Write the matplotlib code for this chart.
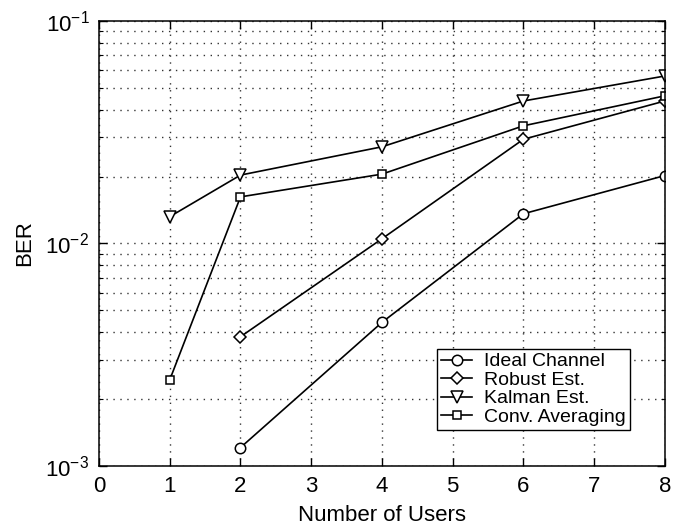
import matplotlib
matplotlib.use("Agg")
from matplotlib import pyplot as plt
from matplotlib.ticker import LogLocator, NullFormatter

users = [1, 2, 4, 6, 8]
ideal_x = [2, 4, 6, 8]
ideal = [1.21e-3, 4.42e-3, 1.36e-2, 2.02e-2]
robust_x = [2, 4, 6, 8]
robust = [3.81e-3, 1.05e-2, 2.94e-2, 4.37e-2]
kalman = [1.32e-2, 2.03e-2, 2.72e-2, 4.37e-2, 5.66e-2]
conv = [2.44e-3, 1.62e-2, 2.05e-2, 3.38e-2, 4.61e-2]

plt.rcParams['font.family'] = ['Liberation Sans', 'DejaVu Sans']

fig = plt.figure(figsize=(6.94, 5.25), dpi=100)
ax = fig.add_axes([0.1427, 0.1124, 0.8153, 0.8476])

style = dict(color='black', lw=1.2, mfc='white', mec='black', mew=1.1)
ax.plot(ideal_x, ideal, marker='o', ms=7.5, label='Ideal Channel', **style)
ax.plot(robust_x, robust, marker='D', ms=6, label='Robust Est.', **style)
ax.plot(users, kalman, marker='v', ms=8.5, label='Kalman Est.', **style)
ax.plot(users, conv, marker='s', ms=6, label='Conv. Averaging', **style)

ax.set_yscale('log')
ax.set_xlim(0, 8)
ax.set_ylim(1e-3, 1e-1)
ax.set_xticks(range(9))
ax.yaxis.set_minor_locator(LogLocator(base=10, subs=range(2, 10)))
ax.yaxis.set_minor_formatter(NullFormatter())

grid_style = dict(ls=(0, (1, 4)), color='#333333', lw=1)
ax.grid(True, which='major', **grid_style)
ax.grid(True, which='minor', axis='y', **grid_style)

ax.tick_params(which='both', direction='in', top=True, right=True, labelsize=16)
ax.tick_params(which='major', length=6, width=1, pad=7)
ax.tick_params(which='minor', length=3, width=0.8)
for s in ax.spines.values():
    s.set_linewidth(1.1)

ax.set_xlabel('Number of Users', fontsize=16, labelpad=6)
ax.set_ylabel('BER', fontsize=16, labelpad=7)

leg = ax.legend(loc='lower right', bbox_to_anchor=(0.938, 0.081), fontsize=14,
                fancybox=False, edgecolor='black', framealpha=1,
                handlelength=1.6, borderpad=0.2, labelspacing=0.05,
                handletextpad=0.6, borderaxespad=0)
leg.get_frame().set_linewidth(1)

fig.savefig('out.png', dpi=100)
